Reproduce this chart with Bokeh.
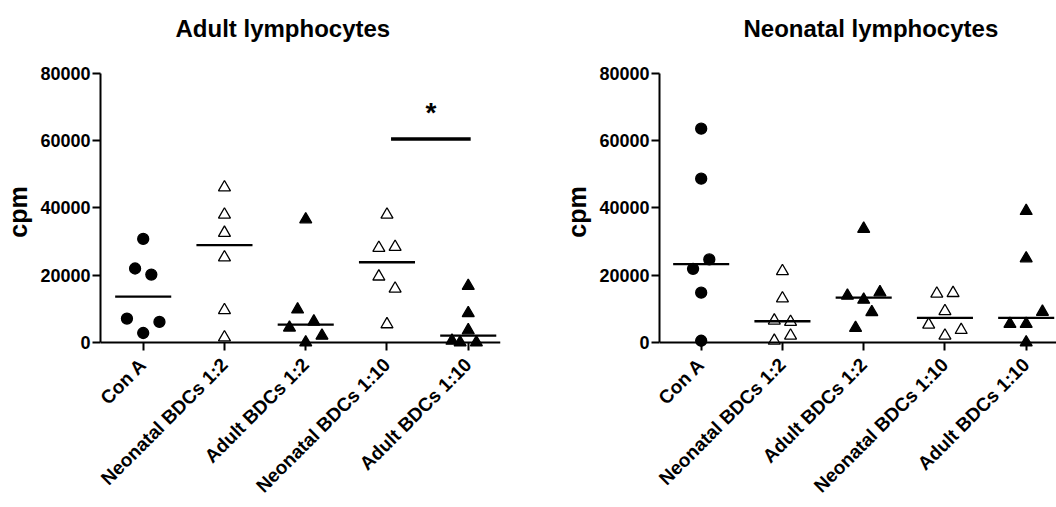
import math
import numpy as np
from bokeh.plotting import figure
from bokeh.layouts import row, column
from bokeh.models import Range1d, FixedTicker, ColumnDataSource, Span
from bokeh.core.properties import value
from bokeh.embed import file_html
from bokeh.resources import INLINE

# ---------------- data ----------------
categories = ["Con A", "Neonatal BDCs 1:2", "Adult BDCs 1:2",
              "Neonatal BDCs 1:10", "Adult BDCs 1:10"]
y_ticks = [0, 20000, 40000, 60000, 80000]

# Adult lymphocytes (cpm)
adult_con_a = [30800, 22000, 20200, 7100, 6100, 2800]
adult_neo_bdc_1_2 = [46100, 38000, 32600, 25300, 9600, 1500]
adult_ad_bdc_1_2 = [36600, 9800, 6200, 4400, 2000, 0]
adult_neo_bdc_1_10 = [38000, 28100, 28400, 19600, 16000, 5400]
adult_ad_bdc_1_10 = [16800, 8700, 3600, 500, 0, 0]

# Neonatal lymphocytes (cpm)
neo_con_a = [63600, 48700, 24700, 21900, 14800, 500]
neo_neo_bdc_1_2 = [21200, 13100, 6500, 6100, 2000, 500]
neo_ad_bdc_1_2 = [33800, 14900, 13900, 12700, 9000, 4300]
neo_neo_bdc_1_10 = [14500, 14700, 9300, 5300, 3700, 2000]
neo_ad_bdc_1_10 = [39100, 25000, 9100, 5500, 5500, 0]

# significance annotation (adult panel, between groups 4 and 5)
sig_level = 60500
sig_text = "*"

# ---------------- layout / style (not data) ----------------
# horizontal scatter spread of the dots within each column (category units)
adult_jitter = [
    [0, -0.1, 0.1, -0.2, 0.2, 0],
    [0, 0, 0, 0, 0, 0],
    [0, -0.1, 0.1, -0.2, 0.2, 0],
    [0, -0.1, 0.1, -0.1, 0.1, 0],
    [0, 0, 0, -0.2, -0.1, 0.1],
]
neo_jitter = [
    [0, 0, 0.1, -0.1, 0, 0],
    [0, 0, -0.1, 0.1, 0.1, -0.1],
    [0, 0.2, -0.2, 0, 0.1, -0.1],
    [-0.1, 0.1, 0, -0.2, 0.2, 0],
    [0, 0, 0.2, -0.2, 0, 0],
]
styles = [
    dict(marker="circle", fill_color="black", size=11),
    dict(marker="triangle", fill_color="white", size=12),
    dict(marker="triangle", fill_color="black", size=12),
    dict(marker="triangle", fill_color="white", size=12),
    dict(marker="triangle", fill_color="black", size=12),
]
FONT = "Liberation Sans"
HALF_W = 0.345
TITLE_H = 61        # height of the title strip
PLOT_H = 507 - TITLE_H


def make_title(title, width, border_left, border_right, x_range, title_x):
    t = figure(width=width, height=TITLE_H, output_backend="svg", toolbar_location=None,
               x_range=Range1d(*x_range), y_range=Range1d(0, TITLE_H),
               x_axis_location=None, y_axis_location=None,
               min_border_left=border_left, min_border_right=border_right,
               min_border_top=0, min_border_bottom=0)
    t.outline_line_color = None
    t.grid.visible = False
    t.title.visible = False
    t.text(x=[title_x], y=[TITLE_H - 28], text=[title], text_align="left",
           text_baseline="alphabetic", text_font=value(FONT), text_font_style="bold",
           text_font_size="24px", text_color="black")
    return t


def make_panel(groups, jitter, width, border_left, border_right, x_range):
    p = figure(width=width, height=PLOT_H, output_backend="svg", toolbar_location=None,
               x_range=Range1d(*x_range), y_range=Range1d(-2400, 80000),
               min_border_left=border_left, min_border_right=border_right,
               min_border_top=12, min_border_bottom=157)
    p.outline_line_color = None
    p.xgrid.visible = False
    p.ygrid.visible = False
    p.title.visible = False

    # x axis line drawn at y = 0
    p.add_layout(Span(location=0, dimension="width", line_color="black", line_width=2))

    positions = list(range(1, len(categories) + 1))
    for pos, vals, jit, st in zip(positions, groups, jitter, styles):
        xs = [pos + j for j in jit]
        p.scatter(x=xs, y=vals, line_color="black", line_width=1.3, **st)

    meds = [float(np.median(v)) for v in groups]
    src = ColumnDataSource(dict(x0=[q - HALF_W for q in positions],
                                x1=[q + HALF_W for q in positions], y=meds))
    p.segment(x0="x0", x1="x1", y0="y", y1="y", source=src,
              line_color="black", line_width=2.3)

    xa = p.below[0]
    ya = p.left[0]
    xa.ticker = FixedTicker(ticks=positions)
    xa.major_label_overrides = {q: c for q, c in zip(positions, categories)}
    xa.major_label_orientation = math.pi / 4
    xa.axis_line_color = None
    xa.major_tick_in = 8
    xa.major_tick_out = 0
    xa.major_label_standoff = 11
    xa.major_label_text_font_size = "19px"
    ya.axis_line_color = "black"
    ya.major_tick_in = 0
    ya.major_tick_out = 8
    ya.ticker = FixedTicker(ticks=y_ticks)
    ya.bounds = (0, 80000)
    ya.major_label_standoff = 2
    ya.major_label_text_font_size = "18px"
    ya.axis_label = "cpm"
    ya.axis_label_standoff = 5
    ya.axis_label_text_font = FONT
    ya.axis_label_text_font_size = "25px"
    ya.axis_label_text_font_style = "bold"
    ya.axis_label_text_color = "black"
    for ax in (xa, ya):
        ax.axis_line_width = 2
        ax.major_tick_line_width = 2
        ax.major_tick_line_color = "black"
        ax.minor_tick_line_color = None
        ax.major_label_text_font = FONT
        ax.major_label_text_font_style = "bold"
        ax.major_label_text_color = "black"
    return p


LEFT = dict(width=550, border_left=100, border_right=50, x_range=(0.4745, 5.397))
RIGHT = dict(width=506, border_left=109, border_right=0, x_range=(0.487, 5.373))

t1 = make_title("Adult lymphocytes", title_x=1.3976, **LEFT)
p1 = make_panel([adult_con_a, adult_neo_bdc_1_2, adult_ad_bdc_1_2, adult_neo_bdc_1_10, adult_ad_bdc_1_10],
                adult_jitter, **LEFT)
# significance bar + asterisk between groups 4 and 5
p1.segment(x0=[4.05], x1=[5.03], y0=[sig_level], y1=[sig_level], line_color="black", line_width=3.5)
p1.text(x=[4.54], y=[sig_level + 8000], text=[sig_text], text_align="center",
        text_baseline="alphabetic", text_font=value(FONT), text_font_style="bold",
        text_font_size="28px", text_color="black")

t2 = make_title("Neonatal lymphocytes", title_x=1.521, **RIGHT)
p2 = make_panel([neo_con_a, neo_neo_bdc_1_2, neo_ad_bdc_1_2, neo_neo_bdc_1_10, neo_ad_bdc_1_10],
                neo_jitter, **RIGHT)

layout = row(column(t1, p1), column(t2, p2))
open("out.html", "w").write(file_html(layout, INLINE))
